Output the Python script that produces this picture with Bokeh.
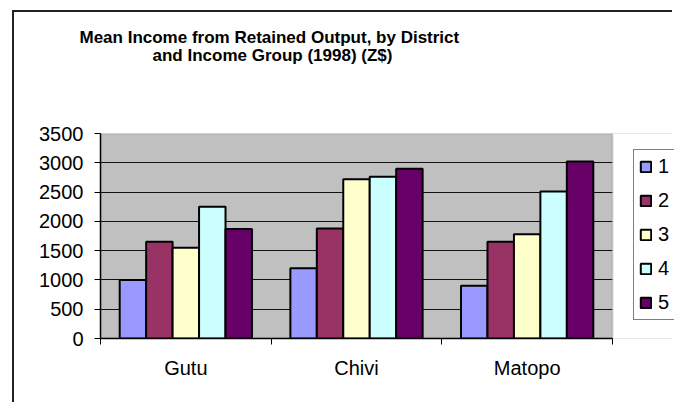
from bokeh.plotting import figure
from bokeh.models import (ColumnDataSource, Range1d, FixedTicker, Title, Legend,
                          LegendItem, BoxAnnotation)
from bokeh.transform import dodge
from bokeh.embed import file_html
from bokeh.resources import INLINE

districts = ["Gutu", "Chivi", "Matopo"]
groups = ["1", "2", "3", "4", "5"]
group1 = [1000, 1200, 900]
group2 = [1650, 1880, 1650]
group3 = [1550, 2720, 1780]
group4 = [2250, 2760, 2510]
group5 = [1870, 2900, 3020]
colors = ["#9999FF", "#993366", "#FFFFCC", "#CCFFFF", "#660066"]
y_ticks = [0, 500, 1000, 1500, 2000, 2500, 3000, 3500]
title_lines = ["Mean Income from Retained Output, by District",
               "and Income Group (1998) (Z$)"]

FONT = "Liberation Sans"
series = [group1, group2, group3, group4, group5]
n = len(districts)
xc = [i + 0.5 for i in range(n)]
data = dict(x=xc)
for g, s in zip(groups, series):
    data["g" + g] = s
src = ColumnDataSource(data)

W, H = 660, 392
ML, MT, MB = 86, 121, 66
plot_px = 512                      # width of the grey plot area in pixels
frame_px = W - ML                  # frame runs to the right edge (room for legend)
x_end = n * frame_px / plot_px
y_top = y_ticks[-1]

p = figure(width=W, height=H, output_backend="svg", toolbar_location=None,
           x_range=Range1d(0, x_end), y_range=Range1d(0, y_top),
           min_border_left=ML, min_border_right=0, min_border_top=MT,
           min_border_bottom=MB, title=None)
p.margin = (10, 0, 0, 12)
p.styles = {"border-left": "2px solid #222222", "border-top": "2px solid #222222"}
p.background_fill_color = "#C0C0C0"
p.border_fill_color = "white"
p.outline_line_color = None

# white area right of the plot area (legend zone) and grey plot-area border
p.add_layout(BoxAnnotation(left=n, fill_color="white", fill_alpha=1,
                           line_color=None, level="glyph"))
p.add_layout(BoxAnnotation(left=0, right=n, bottom=0, top=y_top, fill_alpha=0,
                           line_color="#808080", line_width=2, level="glyph"))

bw = 0.155
items = []
for k, (g, c) in enumerate(zip(groups, colors)):
    off = (k - (len(groups) - 1) / 2) * bw
    r = p.vbar(x=dodge("x", off, range=p.x_range), top="g" + g, width=bw,
               source=src, fill_color=c, line_color="black", line_width=2)
    items.append(LegendItem(label=g, renderers=[r]))

# x axis
xa = p.xaxis[0]
xa.bounds = (0, n)
xa.ticker = FixedTicker(ticks=xc, minor_ticks=list(range(n + 1)))
xa.major_label_overrides = {x: d for x, d in zip(xc, districts)}
xa.major_tick_line_color = None
xa.minor_tick_line_color = "black"
xa.minor_tick_out = 6
xa.minor_tick_in = 0
xa.axis_line_color = "black"
xa.axis_line_width = 1.5
xa.major_label_standoff = 12
xa.major_label_text_font = FONT
xa.major_label_text_font_size = "20px"
xa.major_label_text_color = "black"
p.xgrid.visible = False

# y axis
ya = p.yaxis[0]
ya.ticker = FixedTicker(ticks=y_ticks)
ya.major_tick_out = 6
ya.major_tick_in = 0
ya.major_tick_line_color = "black"
ya.minor_tick_line_color = None
ya.axis_line_color = "black"
ya.axis_line_width = 1.5
ya.major_label_standoff = 11
ya.major_label_text_font = FONT
ya.major_label_text_font_size = "20px"
ya.major_label_text_color = "black"
p.ygrid.grid_line_color = "#111111"
p.ygrid.grid_line_width = 1

legend = Legend(items=items, location=(533, 18), margin=0, padding=5,
                spacing=11, label_height=20, glyph_height=13, glyph_width=13,
                label_standoff=6, border_line_color="black", border_line_width=1,
                background_fill_color="white", background_fill_alpha=1,
                label_text_font=FONT, label_text_font_size="20px",
                label_text_color="black")
p.add_layout(legend)

# white-on-white spacer (nearest the plot) that lifts the title block
p.add_layout(Title(text=".", text_font_size="2px", text_color="white",
                   standoff=66), "above")

# two-line title
for txt, off, so in [(title_lines[1], 52, 0), (title_lines[0], -21, -7)]:
    p.add_layout(Title(text=txt, align="left", offset=off, text_font=FONT,
                       text_font_size="17px", text_font_style="bold",
                       text_color="black", standoff=so), "above")

open("out.html", "w").write(file_html(p, INLINE))
